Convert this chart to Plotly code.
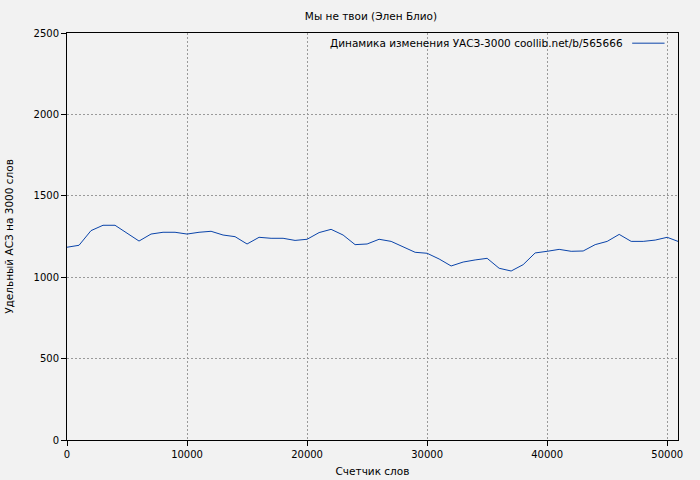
import plotly.graph_objects as go

words = [0, 1000, 2000, 3000, 4000, 5000, 6000, 7000, 8000, 9000, 10000,
         11000, 12000, 13000, 14000, 15000, 16000, 17000, 18000, 19000, 20000,
         21000, 22000, 23000, 24000, 25000, 26000, 27000, 28000, 29000, 30000,
         31000, 32000, 33000, 34000, 35000, 36000, 37000, 38000, 39000, 40000,
         41000, 42000, 43000, 44000, 45000, 46000, 47000, 48000, 49000, 50000, 50900]
uasz = [1184, 1196, 1286, 1319, 1319, 1270, 1222, 1265, 1276, 1276, 1265,
        1276, 1282, 1259, 1249, 1204, 1245, 1239, 1239, 1226, 1233,
        1274, 1294, 1259, 1200, 1204, 1233, 1220, 1187, 1153, 1147,
        1112, 1069, 1093, 1106, 1116, 1055, 1038, 1077, 1149, 1159,
        1171, 1159, 1161, 1200, 1220, 1263, 1220, 1220, 1228, 1245, 1220]

title = "Мы не твои (Элен Блио)"
legend_text = "Динамика изменения УАСЗ-3000 coollib.net/b/565666"
x_title = "Счетчик слов"
y_title = "Удельный АСЗ на 3000 слов"
x_ticks = [0, 10000, 20000, 30000, 40000, 50000]
y_ticks = [0, 500, 1000, 1500, 2000, 2500]

line_color = "#0a44aa"
font = dict(family="DejaVu Sans", size=10.5, color="#000000")
tick_font = dict(family="DejaVu Sans", size=10, color="#000000")

fig = go.Figure()
fig.add_trace(go.Scatter(x=words, y=uasz, mode="lines",
                         line=dict(color=line_color, width=1),
                         name=legend_text, showlegend=False))

axis_common = dict(showline=True, linecolor="black", linewidth=1, mirror=True,
                   showgrid=True, gridcolor="#9a9a9a", griddash="2px,2px", gridwidth=1,
                   ticks="outside", ticklen=5, tickcolor="black", zeroline=False,
                   tickfont=tick_font, automargin=False)

fig.update_xaxes(range=[0, 50900], tickvals=x_ticks, ticktext=[str(v) for v in x_ticks],
                 title=dict(text=x_title, font=font, standoff=8), **axis_common)
fig.update_yaxes(range=[0, 2500], tickvals=y_ticks, ticktext=[str(v) for v in y_ticks],
                 title=dict(text=y_title, font=font, standoff=17), **axis_common)

fig.add_annotation(text=legend_text, xref="paper", yref="paper", x=0.914, y=0.975,
                   xanchor="right", yanchor="middle", showarrow=False, font=font)
fig.add_shape(type="line", xref="paper", yref="paper", x0=0.925, x1=0.978,
              y0=0.975, y1=0.975, line=dict(color=line_color, width=1))

fig.update_layout(
    width=700, height=480,
    paper_bgcolor="#f2f2f2", plot_bgcolor="#f2f2f2",
    margin=dict(l=67, r=22, t=33, b=40),
    title=dict(text=title, x=0.53, xanchor="center", y=0.966, yanchor="middle",
               font=font, automargin=False),
    font=font,
)

fig.write_html("out.html", config={"displayModeBar": False},
               post_script="document.body.style.margin='0';"
                           "document.body.style.background='#f2f2f2';"
                           "document.body.style.overflow='hidden';")
